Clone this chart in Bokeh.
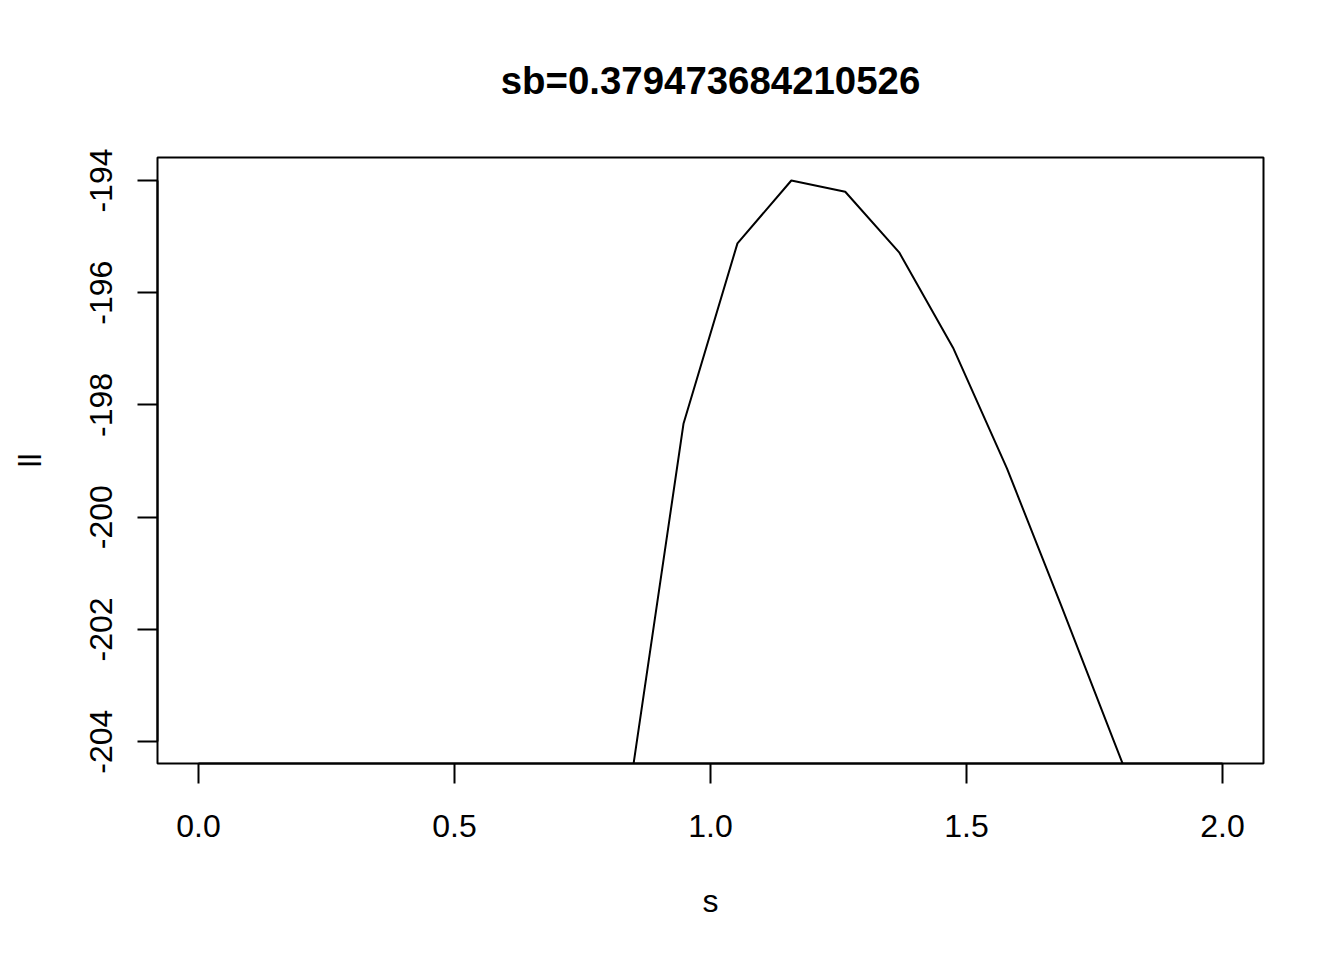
import math
from bokeh.plotting import figure
from bokeh.models import Range1d, FixedTicker, PrintfTickFormatter
from bokeh.embed import file_html
from bokeh.resources import INLINE

# data
s = [0.0, 0.10526, 0.21053, 0.31579, 0.42105, 0.52632, 0.63158, 0.73684,
     0.84211, 0.94737, 1.05263, 1.15789, 1.26316, 1.36842, 1.47368, 1.57895,
     1.68421, 1.78947, 1.89474, 2.0]
ll = [-1200.0, -820.0, -580.0, -430.0, -335.0, -275.0, -238.0, -217.0,
      -204.87, -198.33, -195.12, -194.0, -194.2, -195.28, -196.98, -199.13,
      -201.56, -204.03, -206.5, -209.3]
title_text = "sb=0.379473684210526"
x_ticks = [0.0, 0.5, 1.0, 1.5, 2.0]
y_ticks = [-204, -202, -200, -198, -196, -194]

FONT = "Liberation Sans"

p = figure(width=1336, height=952, output_backend="svg", toolbar_location=None,
           x_range=Range1d(-0.08, 2.08), y_range=Range1d(-204.39, -193.59),
           min_border_left=157, min_border_right=73,
           min_border_top=157, min_border_bottom=189,
           title=title_text)

p.line(s, ll, line_color="black", line_width=2)

p.grid.visible = False
p.outline_line_color = "black"
p.outline_line_width = 2
p.background_fill_color = "white"
p.border_fill_color = "white"

p.title.text_font = FONT
p.title.text_font_size = "38.4px"
p.title.text_font_style = "bold"
p.title.align = "center"
p.title.text_color = "black"
p.title.standoff = 111

for ax in (p.xaxis[0], p.yaxis[0]):
    ax.minor_tick_line_color = None
    ax.major_tick_in = 0
    ax.major_tick_out = 20
    ax.major_tick_line_width = 2
    ax.major_tick_line_color = "black"
    ax.axis_line_width = 2
    ax.axis_line_color = "black"
    ax.major_label_text_font = FONT
    ax.major_label_text_font_size = "32px"
    ax.major_label_text_color = "black"
    ax.axis_label_text_font = FONT
    ax.axis_label_text_font_size = "32px"
    ax.axis_label_text_font_style = "normal"
    ax.axis_label_text_color = "black"

xa = p.xaxis[0]
xa.ticker = FixedTicker(ticks=x_ticks)
xa.formatter = PrintfTickFormatter(format="%.1f")
xa.bounds = (0, 2)
xa.axis_label = "s"
xa.major_label_standoff = 31
xa.axis_label_standoff = 43

ya = p.yaxis[0]
ya.ticker = FixedTicker(ticks=y_ticks)
ya.formatter = PrintfTickFormatter(format="%d")
ya.bounds = (-204, -194)
ya.axis_label = "ll"
ya.major_label_orientation = "parallel"
ya.major_label_standoff = 25
ya.axis_label_standoff = 40

open("out.html", "w").write(file_html(p, INLINE))
